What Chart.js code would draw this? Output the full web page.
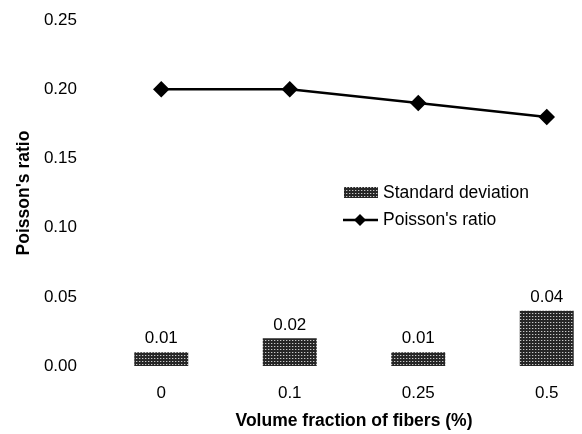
<!DOCTYPE html>
<html>
<head>
<meta charset="utf-8">
<script src="https://cdn.jsdelivr.net/npm/chart.js@4.4.0/dist/chart.umd.min.js"></script>
<style>
html,body{margin:0;padding:0;background:#fff;overflow:hidden;}
#wrap{width:620px;height:434px;position:relative;}
</style>
</head>
<body>
<div id="wrap"><canvas id="c"></canvas></div>
<script>
const categories = ['0', '0.1', '0.25', '0.5'];
const stdDev = [0.01, 0.02, 0.01, 0.04];
const poisson = [0.20, 0.20, 0.19, 0.18];
const yTicks = [0, 0.05, 0.10, 0.15, 0.20, 0.25];

function makePattern() {
  const p = document.createElement('canvas');
  p.width = 3; p.height = 3;
  const g = p.getContext('2d');
  g.fillStyle = '#262626';
  g.fillRect(0, 0, 3, 3);
  g.fillStyle = '#c8c8c8';
  g.fillRect(1, 1, 1, 1);
  g.fillStyle = '#5a5a5a';
  g.fillRect(2, 1, 1, 1);
  return g.createPattern(p, 'repeat');
}
const pat = makePattern();
const FONT = "'Liberation Sans', Arial, sans-serif";

const labelPlugin = {
  id: 'barLabels',
  afterDatasetsDraw(chart) {
    const ctx = chart.ctx;
    const meta = chart.getDatasetMeta(0);
    ctx.save();
    ctx.font = '17px ' + FONT;
    ctx.fillStyle = '#000';
    ctx.textAlign = 'center';
    ctx.textBaseline = 'bottom';
    meta.data.forEach((el, i) => {
      ctx.fillText(stdDev[i].toFixed(2), el.x, el.y - 5);
    });
    ctx.restore();
  }
};

const legendPlugin = {
  id: 'customLegend',
  afterDraw(chart) {
    const ctx = chart.ctx;
    ctx.save();
    ctx.font = '17.5px ' + FONT;
    ctx.textBaseline = 'middle';
    ctx.textAlign = 'left';
    ctx.fillStyle = pat;
    ctx.fillRect(344, 187, 34, 11);
    ctx.fillStyle = '#000';
    ctx.fillText(chart.data.datasets[0].label, 383, 193);
    ctx.strokeStyle = '#000';
    ctx.lineWidth = 2.5;
    ctx.beginPath();
    ctx.moveTo(343, 220);
    ctx.lineTo(378, 220);
    ctx.stroke();
    ctx.beginPath();
    ctx.moveTo(360, 214);
    ctx.lineTo(366, 220);
    ctx.lineTo(360, 226);
    ctx.lineTo(354, 220);
    ctx.closePath();
    ctx.fill();
    ctx.fillText(chart.data.datasets[1].label, 383, 220);
    ctx.restore();
  }
};

new Chart(document.getElementById('c'), {
  type: 'bar',
  data: {
    labels: categories,
    datasets: [
      {
        type: 'bar',
        label: 'Standard deviation',
        data: stdDev,
        backgroundColor: pat,
        borderWidth: 0,
        barPercentage: 0.42,
        categoryPercentage: 1.0,
        order: 2
      },
      {
        type: 'line',
        label: "Poisson's ratio",
        data: poisson,
        borderColor: '#000',
        backgroundColor: '#000',
        borderWidth: 2.5,
        pointStyle: 'rectRot',
        pointRadius: 6.5,
        pointHoverRadius: 6.5,
        tension: 0,
        fill: false,
        order: 1
      }
    ]
  },
  plugins: [labelPlugin, legendPlugin],
  options: {
    responsive: true,
    maintainAspectRatio: false,
    animation: false,
    layout: { padding: { top: 0, left: 0, right: 6, bottom: 0 } },
    plugins: { legend: { display: false }, tooltip: { enabled: false } },
    scales: {
      x: {
        grid: { display: false, drawTicks: false },
        border: { display: false },
        ticks: { color: '#000', font: { size: 17, family: FONT }, padding: 17 },
        title: { display: true, text: 'Volume fraction of fibers (%)', color: '#000',
                 font: { size: 17.5, weight: 'bold', family: FONT }, padding: { top: 0, bottom: 2 } },
        afterFit(s) { s.height = 68; }
      },
      y: {
        min: 0, max: 0.25,
        afterBuildTicks(s) { s.ticks = yTicks.map(v => ({ value: v })); },
        grid: { display: false, drawTicks: false },
        border: { display: false },
        ticks: { color: '#000', font: { size: 17, family: FONT, lineHeight: 0.01 }, padding: 20,
                 callback: v => v.toFixed(2) },
        title: { display: true, text: "Poisson's ratio", color: '#000',
                 font: { size: 17.5, weight: 'bold', family: FONT }, padding: { top: 14, bottom: 0 } },
        afterFit(s) { s.width = 97; }
      }
    }
  }
});
</script>
</body>
</html>
